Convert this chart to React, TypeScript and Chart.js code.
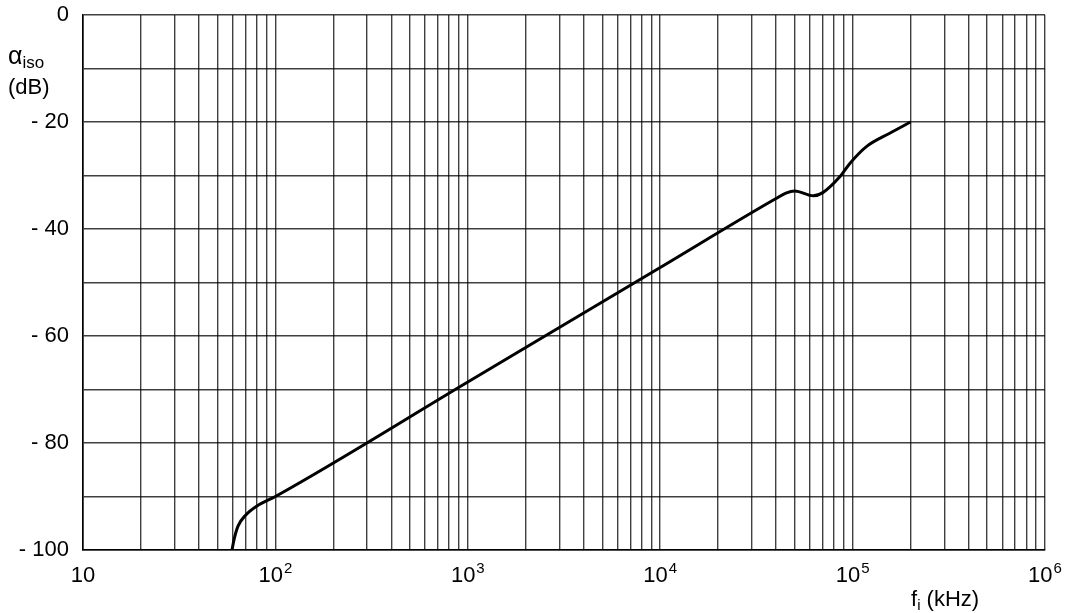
import React, { useEffect, useRef } from "react";
import { Chart, registerables } from "chart.js";

Chart.register(...registerables);

// Curve: isolation (dB) vs frequency (kHz)
const freqKHz = [59.5, 61, 64, 70, 80, 100, 1000, 10000, 40000, 45000, 50000, 62500, 70000, 86000, 97000, 118000, 156000, 200000];
const isolationDB = [-100, -98, -95.5, -93.5, -91.8, -90, -68.6, -47.2, -34.3, -33.3, -32.9, -33.8, -33.2, -30.2, -27.7, -24.6, -22.1, -20];

// Axis ticks
const xDecades = [10, 100, 1000, 10000, 100000];
const xMultipliers = [1, 2, 3, 4, 5, 6, 7, 8, 9];
const xMax = 1000000;
const xLabelBases = [10, 100, 1000, 10000, 100000, 1000000];
const xLabelExponents = ["", "2", "3", "4", "5", "6"];
const yTicks = [0, -10, -20, -30, -40, -50, -60, -70, -80, -90, -100];
const yLabels: Record<number, string> = {
  0: "0",
  [-20]: "- 20",
  [-40]: "- 40",
  [-60]: "- 60",
  [-80]: "- 80",
  [-100]: "- 100",
};

const FONT = '"Liberation Sans", Arial, sans-serif';

const powerLabels = {
  id: "powerLabels",
  afterDraw(chart: any) {
    const ctx = chart.ctx;
    const xs = chart.scales.x;
    const baseY = chart.chartArea.bottom + 32;
    ctx.save();
    ctx.fillStyle = "#000";
    ctx.textBaseline = "alphabetic";
    ctx.textAlign = "left";
    xLabelBases.forEach((v, i) => {
      const px = xs.getPixelForValue(v);
      const exp = xLabelExponents[i];
      ctx.font = `22px ${FONT}`;
      const wBase = ctx.measureText("10").width;
      ctx.font = `15px ${FONT}`;
      const wExp = exp ? ctx.measureText(exp).width + 1 : 0;
      const left = px - (wBase + wExp) / 2;
      ctx.font = `22px ${FONT}`;
      ctx.fillText("10", left, baseY);
      if (exp) {
        ctx.font = `15px ${FONT}`;
        ctx.fillText(exp, left + wBase + 1, baseY - 9);
      }
    });
    ctx.restore();
  },
};

export default function App() {
  const canvasRef = useRef<HTMLCanvasElement | null>(null);

  useEffect(() => {
    if (!canvasRef.current) return;
    const xTickValues: number[] = [];
    xDecades.forEach((d) => xMultipliers.forEach((m) => xTickValues.push(d * m)));
    xTickValues.push(xMax);

    const chart = new Chart(canvasRef.current, {
      type: "line",
      data: {
        datasets: [
          {
            data: freqKHz.map((f, i) => ({ x: f, y: isolationDB[i] })),
            borderColor: "#000",
            borderWidth: 3,
            pointRadius: 0,
            cubicInterpolationMode: "monotone",
            fill: false,
          },
        ],
      },
      plugins: [powerLabels],
      options: {
        animation: false,
        responsive: true,
        maintainAspectRatio: false,
        layout: { padding: { top: 15, right: 27, left: 0, bottom: 0 } },
        plugins: { legend: { display: false }, tooltip: { enabled: false } },
        scales: {
          x: {
            type: "logarithmic",
            min: 10,
            max: xMax,
            afterBuildTicks: (scale: any) => {
              scale.ticks = xTickValues.map((v) => ({ value: v }));
            },
            afterFit: (scale: any) => {
              scale.height = 63;
              scale.paddingLeft = 0;
              scale.paddingRight = 0;
            },
            grid: { color: "rgba(0,0,0,0.75)", lineWidth: 1.4, drawTicks: false },
            border: { color: "#000", width: 1.6 },
            ticks: {
              autoSkip: false,
              maxRotation: 0,
              padding: 10,
              color: "#000",
              font: { family: FONT, size: 22 },
              callback: () => "",
            },
          },
          y: {
            type: "linear",
            min: -100,
            max: 0,
            afterBuildTicks: (scale: any) => {
              scale.ticks = yTicks.map((v) => ({ value: v }));
            },
            afterFit: (scale: any) => {
              scale.width = 83;
              scale.paddingTop = 0;
              scale.paddingBottom = 0;
            },
            grid: { color: "rgba(0,0,0,0.75)", lineWidth: 1.4, drawTicks: false },
            border: { color: "#000", width: 1.6 },
            ticks: {
              autoSkip: false,
              padding: 14,
              color: "#000",
              font: { family: FONT, size: 22 },
              callback: (v: any) => yLabels[Number(v)] ?? "",
            },
          },
        },
      },
    } as any);
    return () => chart.destroy();
  }, []);

  return (
    <div style={{ position: "absolute", left: 0, top: 0, width: 1072, height: 613, background: "#fff", fontFamily: FONT }}>
      <canvas ref={canvasRef} />
      <div style={{ position: "absolute", left: 8, top: 41, fontSize: 22, lineHeight: "28px", color: "#000" }}>
        <div>
          <span style={{ fontSize: 25 }}>α</span>
          <span style={{ fontSize: 17, position: "relative", top: 4 }}>iso</span>
        </div>
        <div>(dB)</div>
      </div>
      <div style={{ position: "absolute", left: 911, top: 585, fontSize: 22, lineHeight: "28px", color: "#000", whiteSpace: "nowrap" }}>
        f<span style={{ fontSize: 15, position: "relative", top: 4 }}>i</span> (kHz)
      </div>
    </div>
  );
}
